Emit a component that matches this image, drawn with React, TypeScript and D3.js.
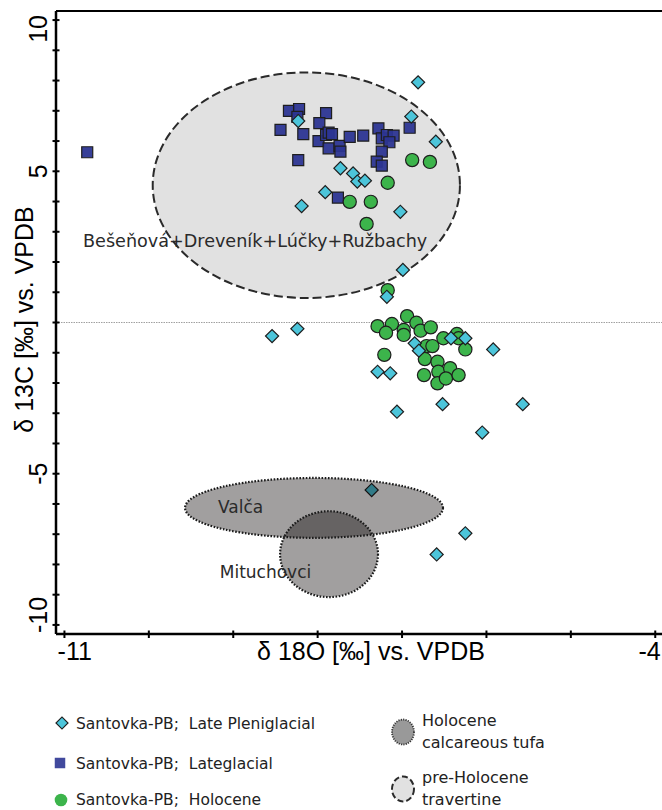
import React from 'react';
import * as d3 from 'd3';

// Santovka-PB; Late Pleniglacial (diamonds)
const lateX = [-6.81, -6.89, -6.60, -8.23, -7.73, -7.58, -7.53, -7.44, -7.91, -8.19, -7.02, -6.99, -7.18, -8.54, -8.24, -6.85, -6.80, -6.42, -6.25, -5.92, -7.29, -7.14, -6.52, -5.57, -7.06, -6.05, -7.36, -6.25, -6.59];
const lateY = [7.94, 6.81, 5.98, 6.66, 5.10, 4.93, 4.66, 4.69, 4.31, 3.85, 3.66, 1.74, 0.85, -0.45, -0.21, -0.69, -0.93, -0.52, -0.52, -0.89, -1.63, -1.68, -2.70, -2.70, -2.95, -3.64, -5.54, -6.97, -7.67];

// Santovka-PB; Lateglacial (squares)
const lgX = [-10.73, -8.34, -8.22, -8.24, -8.44, -8.17, -7.90, -7.98, -7.99, -7.90, -7.87, -7.83, -7.87, -7.74, -7.73, -7.62, -7.46, -7.28, -7.24, -7.18, -7.10, -7.15, -7.24, -7.30, -7.24, -6.91, -8.23, -7.76];
const lgY = [5.63, 7.00, 7.06, 6.80, 6.37, 6.23, 6.92, 6.59, 6.00, 6.20, 6.28, 6.23, 5.76, 5.84, 5.65, 6.14, 6.18, 6.42, 6.09, 6.20, 6.18, 5.96, 5.65, 5.32, 5.19, 6.44, 5.37, 4.13];

// Santovka-PB; Holocene (circles)
const holoX = [-6.88, -6.67, -7.17, -7.62, -7.37, -7.42, -7.17, -6.94, -7.29, -7.12, -7.19, -6.98, -6.98, -6.83, -6.78, -6.66, -6.71, -6.64, -6.51, -6.35, -6.33, -6.25, -7.21, -6.73, -6.58, -6.57, -6.43, -6.74, -6.58, -6.48, -6.33];
const holoY = [5.37, 5.31, 4.62, 3.99, 3.99, 3.26, 1.07, 0.21, -0.12, -0.05, -0.34, -0.25, -0.41, -0.01, -0.27, -0.16, -0.78, -0.78, -0.52, -0.38, -0.52, -0.89, -1.07, -1.21, -1.30, -1.63, -1.51, -1.74, -2.01, -1.85, -1.74];

// Reference fields (ellipses)
const regionNames = ['Bešeňová+Dreveník+Lúčky+Ružbachy', 'Valča', 'Mituchovci'];
const regionCx = [-8.134, -8.043, -7.865];
const regionCy = [4.54, -6.13, -7.66];
const regionRx = [1.82, 1.528, 0.58];
const regionRy = [3.73, 0.99, 1.42];
const regionLabelX = [-10.78, -9.18, -9.16];
const regionLabelY = [2.49, -6.30, -8.45];

const xTicks = [-11, -10, -9, -8, -7, -6, -5, -4];
const xTickLabels = ['-11', '', '', '', '', '', '', '-4'];
const yTicks = [-10, -9, -8, -7, -6, -5, -4, -3, -2, -1, 0, 1, 2, 3, 4, 5, 6, 7, 8, 9, 10];
const yLabelled = [-10, -5, 5, 10];

const legendLeft = ['Santovka-PB;\u00a0 Late Pleniglacial', 'Santovka-PB;\u00a0 Lateglacial', 'Santovka-PB;\u00a0 Holocene'];
const legendRight = [['Holocene', 'calcareous tufa'], ['pre-Holocene', 'travertine']];

const C_DIAMOND = '#4cc5da';
const C_SQUARE = '#2c3592';
const C_CIRCLE = '#3cb44b';
const STROKE = '#1e1e1e';

export default function App() {
  const W = 662, H = 810;
  const left = 56, right = 662, top = 11, bottom = 634;
  const x = d3.scaleLinear().domain([-11.1, -3.92]).range([left, right]);
  const y = d3.scaleLinear().domain([-10.3, 10.3]).range([bottom, top]);

  const sq = d3.symbol().type(d3.symbolSquare).size(121)() as string;
  const dia = d3.symbol().type(d3.symbolSquare).size(86)() as string;
  const sqLeg = d3.symbol().type(d3.symbolSquare).size(110)() as string;
  const diaLeg = d3.symbol().type(d3.symbolSquare).size(72)() as string;

  const axisFont = 'Liberation Sans, Arial, sans-serif';
  const sansFont = 'DejaVu Sans, Verdana, sans-serif';
  const tickFs = 25;

  const clamp = (v: number, lo: number, hi: number) => Math.max(lo, Math.min(hi, v));

  return (
    <svg width={W} height={H} style={{ position: 'absolute', left: 0, top: 0, background: '#fff' }}>
      {/* big travertine field */}
      <ellipse cx={x(regionCx[0])} cy={y(regionCy[0])}
        rx={x(regionCx[0] + regionRx[0]) - x(regionCx[0])}
        ry={y(regionCy[0]) - y(regionCy[0] + regionRy[0])}
        fill="#e1e1e1" stroke="#2a2a2a" strokeWidth={2} strokeDasharray="9,4" />

      {/* zero line */}
      <line x1={left} x2={right} y1={y(0)} y2={y(0)} stroke="#a0a0a0" strokeWidth={1} strokeDasharray="1.5,1" />

      {/* squares */}
      {lgX.map((v, i) => (
        <path key={'s' + i} d={sq} transform={`translate(${x(v)},${y(lgY[i])})`}
          fill={C_SQUARE} fillOpacity={0.95} stroke={STROKE} strokeWidth={1.2} />
      ))}
      {/* circles */}
      {holoX.map((v, i) => (
        <circle key={'c' + i} cx={x(v)} cy={y(holoY[i])} r={6.6}
          fill={C_CIRCLE} stroke={STROKE} strokeWidth={1.2} />
      ))}
      {/* diamonds */}
      {lateX.map((v, i) => (
        <path key={'d' + i} d={dia} transform={`translate(${x(v)},${y(lateY[i])}) rotate(45)`}
          fill={C_DIAMOND} stroke={STROKE} strokeWidth={1.2} />
      ))}

      {/* tufa fields */}
      {[1, 2].map(k => (
        <ellipse key={'f' + k} cx={x(regionCx[k])} cy={y(regionCy[k])}
          rx={x(regionCx[k] + regionRx[k]) - x(regionCx[k])}
          ry={y(regionCy[k]) - y(regionCy[k] + regionRy[k])}
          fill="#050000" fillOpacity={0.375} stroke="none" />
      ))}
      {[1, 2].map(k => (
        <ellipse key={'fs' + k} cx={x(regionCx[k])} cy={y(regionCy[k])}
          rx={x(regionCx[k] + regionRx[k]) - x(regionCx[k])}
          ry={y(regionCy[k]) - y(regionCy[k] + regionRy[k])}
          fill="none" stroke="#1a1a1a" strokeWidth={2.2} strokeDasharray="1.6,1.6" />
      ))}

      {/* region labels */}
      {regionNames.map((n, i) => (
        <text key={'rl' + i} x={x(regionLabelX[i])} y={y(regionLabelY[i])}
          fontFamily={sansFont} fontSize={i === 0 ? 17.6 : 17} fill="#2a2a2a">{n}</text>
      ))}

      {/* axes frame */}
      <line x1={left} x2={right} y1={top} y2={top} stroke="#000" strokeWidth={2} />
      <line x1={left} x2={left} y1={top} y2={bottom} stroke="#000" strokeWidth={2.5} />
      <line x1={left} x2={right} y1={bottom} y2={bottom} stroke="#000" strokeWidth={2.5} />

      {/* x ticks */}
      {xTicks.map((t, i) => (
        <g key={'xt' + i}>
          <line x1={x(t)} x2={x(t)} y1={bottom - 3.5} y2={bottom + 4} stroke="#000" strokeWidth={2} />
          {xTickLabels[i] && (() => {
            const w = xTickLabels[i].length * 0.5 * tickFs;
            const cx = clamp(x(t), left + w / 2, right - w / 2);
            return <text x={cx} y={bottom + 26} textAnchor="middle" fontFamily={axisFont} fontSize={tickFs} fill="#000">{xTickLabels[i]}</text>;
          })()}
        </g>
      ))}

      {/* y ticks */}
      {yTicks.map((t, i) => (
        <line key={'yt' + i} x1={left - 3.5} x2={left + 3.5} y1={y(t)} y2={y(t)} stroke="#000" strokeWidth={2} />
      ))}
      {yLabelled.map((t, i) => {
        const s = String(t);
        const w = (s.replace('-', '').length * 0.556 + (s.startsWith('-') ? 0.333 : 0)) * tickFs;
        const cy = clamp(y(t), top + 4 + w / 2, bottom - 1 - w / 2);
        return (
          <text key={'yl' + i} transform={`translate(${left - 9},${cy}) rotate(-90)`}
            textAnchor="middle" fontFamily={axisFont} fontSize={tickFs} fill="#000">{s}</text>
        );
      })}

      {/* axis titles */}
      <text x={371} y={bottom + 26} textAnchor="middle" fontFamily={axisFont} fontSize={tickFs} fill="#000">δ 18O [‰] vs. VPDB</text>
      <text transform={`translate(33,${(top + bottom) / 2 - 3}) rotate(-90)`} textAnchor="middle"
        fontFamily={axisFont} fontSize={tickFs} fill="#000">δ 13C [‰] vs. VPDB</text>

      {/* legend left */}
      <path d={diaLeg} transform="translate(62,723) rotate(45)" fill={C_DIAMOND} stroke={STROKE} strokeWidth={1.2} />
      <path d={sqLeg} transform="translate(60,763)" fill={C_SQUARE} fillOpacity={0.9} stroke="none" />
      <circle cx={61} cy={800} r={6.3} fill={C_CIRCLE} stroke="none" />
      {legendLeft.map((s, i) => (
        <text key={'ll' + i} x={76} y={[723, 763, 799][i]} dy="0.36em" fontFamily={sansFont} fontSize={15.5} fill="#222">{s}</text>
      ))}

      {/* legend right */}
      <ellipse cx={403} cy={732} rx={11} ry={12.5} fill="#999" stroke="#333" strokeWidth={1.8} strokeDasharray="1.2,1.2" />
      <ellipse cx={403} cy={789} rx={11} ry={12.5} fill="#e1e1e1" stroke="#2a2a2a" strokeWidth={2} strokeDasharray="6,3" />
      {legendRight.map((lines, i) => (
        <text key={'lr' + i} x={422} y={[720, 777][i]} dy="0.36em" fontFamily={sansFont} fontSize={16} fill="#222">
          <tspan x={422}>{lines[0]}</tspan>
          <tspan x={422} dy={22.5}>{lines[1]}</tspan>
        </text>
      ))}
    </svg>
  );
}
